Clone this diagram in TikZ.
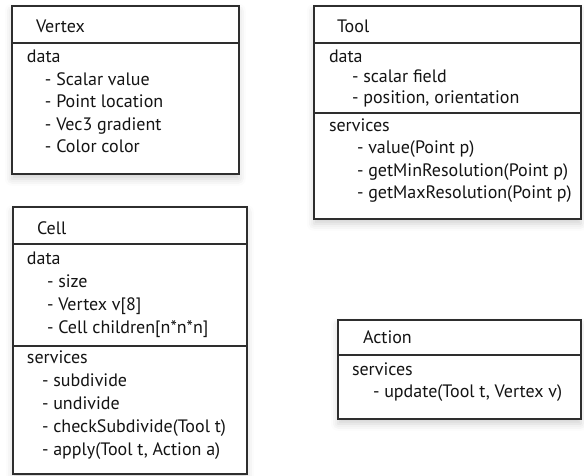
\documentclass[tikz,border=0pt]{standalone}
\usepackage{fontspec}
\setmainfont{PT Sans}
\usetikzlibrary{shadows.blur}
\tikzset{
  umlbox/.style={draw=black!82, line width=1.6pt, fill=white, anchor=north west, inner sep=0pt,
    blur shadow={shadow xshift=0pt, shadow yshift=-5pt, shadow blur radius=7pt, shadow opacity=18}},
  divline/.style={draw=black!82, line width=1.6pt},
  txt/.style={anchor=base west, inner sep=0pt, outer sep=0pt, text=black!92,
    font=\fontsize{18}{22}\selectfont},
}
\begin{document}
\begin{tikzpicture}[x=1pt, y=-1pt]
\useasboundingbox (0,0) rectangle (584,476);
% ---------- Vertex ----------
\node[umlbox, minimum width=227pt, minimum height=168pt] (vertex) at (11,5) {};
\draw[divline] (vertex.west |- 0,43) -- (vertex.east |- 0,43);
\node[txt] (vt) at (36,33) {Vertex};
\node[txt] (vd) at (27,63) {data};
\node[txt] (v1) at (45,85.5) {- Scalar value};
\node[txt] (v2) at (45,108) {- Point location};
\node[txt] (v3) at (45,130.5) {- Vec3 gradient};
\node[txt] (v4) at (45,153) {- Color color};
% ---------- Tool ----------
\node[umlbox, minimum width=267pt, minimum height=213pt] (tool) at (313,5) {};
\draw[divline] (tool.west |- 0,43) -- (tool.east |- 0,43);
\draw[divline] (tool.west |- 0,113) -- (tool.east |- 0,113);
\node[txt] (tt) at (337,33) {Tool};
\node[txt] (td) at (329,63) {data};
\node[txt] (t1) at (352,83) {- scalar field};
\node[txt] (t2) at (352,104) {- position, orientation};
\node[txt] (ts) at (329,132) {services};
\node[txt] (t3) at (357,154) {- value(Point p)};
\node[txt] (t4) at (357,176.5) {- getMinResolution(Point p)};
\node[txt] (t5) at (357,199) {- getMaxResolution(Point p)};
% ---------- Cell ----------
\node[umlbox, minimum width=234pt, minimum height=267pt] (cell) at (12,206) {};
\draw[divline] (cell.west |- 0,244) -- (cell.east |- 0,244);
\draw[divline] (cell.west |- 0,346) -- (cell.east |- 0,346);
\node[txt] (ct) at (37,234) {Cell};
\node[txt] (cd) at (27,264) {data};
\node[txt] (c1) at (47,287) {- size};
\node[txt] (c2) at (47,310) {- Vertex v[8]};
\node[txt] (c3) at (47,333) {- Cell children[n*n*n]};
\node[txt] (cs) at (27,363) {services};
\node[txt] (c4) at (42,386) {- subdivide};
\node[txt] (c5) at (42,409) {- undivide};
\node[txt] (c6) at (42,432) {- checkSubdivide(Tool t)};
\node[txt] (c7) at (42,455) {- apply(Tool t, Action a)};
% ---------- Action ----------
\node[umlbox, minimum width=243pt, minimum height=99pt] (action) at (337,319) {};
\draw[divline] (action.west |- 0,355) -- (action.east |- 0,355);
\node[txt] (at) at (363,343) {Action};
\node[txt] (as) at (352,375) {services};
\node[txt] (a1) at (373,397) {- update(Tool t, Vertex v)};
\end{tikzpicture}
\end{document}
